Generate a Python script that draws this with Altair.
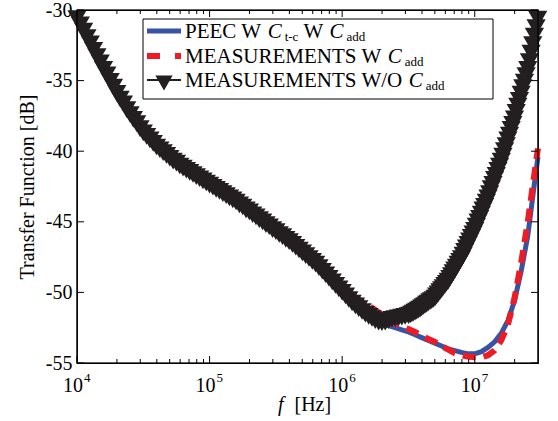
import altair as alt
import numpy as np
import pandas as pd

SERIF = "Liberation Serif"

# ---------------- data ----------------
# log10(frequency) grids
black_logf = list(np.round(np.concatenate([np.linspace(4.0, 6.5, 101),
                                           np.linspace(6.5125, 7.4625, 77),
                                           [7.475]]), 4))
line_logf = list(np.round(np.concatenate([np.linspace(4.0, 7.45, 70), [7.477]]), 4))

# MEASUREMENTS W/O Cadd  (black, triangle markers)
black_db = [
    -30.6, -31.05, -31.5, -31.95, -32.4, -32.85, -33.3, -33.75, -34.2, -34.6,
    -35.05, -35.45, -35.9, -36.3, -36.65, -37.05, -37.4, -37.75, -38.05, -38.4,
    -38.7, -38.95, -39.2, -39.45, -39.7, -39.9, -40.1, -40.3, -40.5, -40.7,
    -40.85, -41.05, -41.2, -41.35, -41.5, -41.65, -41.8, -41.95, -42.1, -42.25,
    -42.4, -42.55, -42.7, -42.85, -43.0, -43.15, -43.3, -43.45, -43.6, -43.8,
    -43.95, -44.15, -44.3, -44.5, -44.65, -44.85, -45.0, -45.2, -45.35, -45.55,
    -45.7, -45.9, -46.05, -46.25, -46.4, -46.6, -46.8, -47.0, -47.2, -47.4,
    -47.6, -47.8, -48.0, -48.25, -48.5, -48.75, -49.0, -49.25, -49.5, -49.75,
    -50.0, -50.25, -50.5, -50.75, -50.95, -51.15, -51.35, -51.55, -51.7, -51.85,
    -52.0, -52.1, -52.15, -52.1, -52.0, -51.9, -51.85, -51.8, -51.75, -51.7,
    -51.65,
    -51.6, -51.53, -51.47, -51.4, -51.33, -51.25, -51.18, -51.1,
    -51.0, -50.93, -50.83, -50.75, -50.65, -50.58, -50.5, -50.4,
    -50.25, -50.1, -49.95, -49.8, -49.65, -49.5, -49.35, -49.2,
    -49.0, -48.8, -48.6, -48.4, -48.2, -48.0, -47.8, -47.6,
    -47.35, -47.1, -46.85, -46.6, -46.35, -46.1, -45.85, -45.6,
    -45.3, -45.0, -44.75, -44.45, -44.15, -43.9, -43.6, -43.3,
    -43.0, -42.65, -42.35, -42.0, -41.7, -41.35, -41.05, -40.7,
    -40.35, -39.95, -39.6, -39.2, -38.85, -38.45, -38.1, -37.7,
    -37.25, -36.8, -36.4, -35.95, -35.5, -35.1, -34.65, -34.2,
    -33.65, -33.05, -32.45, -31.85, -31.25,
    -30.65,
]

# PEEC W Ct-c W Cadd (blue solid)
peec_db = [
    -30.8, -31.6, -32.5, -33.4, -34.3, -35.1, -35.95, -36.7, -37.4, -38.05,
    -38.7, -39.2, -39.7, -40.1, -40.5, -40.85, -41.2, -41.5, -41.8, -42.1,
    -42.4, -42.7, -43.0, -43.3, -43.6, -43.95, -44.3, -44.65, -45.0, -45.35,
    -45.7, -46.05, -46.4, -46.8, -47.2, -47.6, -48.0, -48.5, -49.0, -49.5,
    -50.0, -50.5, -50.95, -51.35, -51.7, -52.0, -52.2, -52.35, -52.5, -52.65,
    -52.8, -53.0, -53.2, -53.4, -53.6, -53.8, -54.0, -54.12, -54.25, -54.35,
    -54.35, -54.2, -53.9, -53.5, -52.9, -52.0, -50.6, -48.5, -46.0, -42.3,
    -40.4,
]

# MEASUREMENTS W Cadd (red dashed)
meas_db = [
    -30.5, -31.4, -32.3, -33.2, -34.1, -34.95, -35.8, -36.55, -37.3, -37.95,
    -38.6, -39.1, -39.6, -40.0, -40.4, -40.75, -41.1, -41.4, -41.7, -42.0,
    -42.3, -42.6, -42.9, -43.2, -43.5, -43.85, -44.2, -44.55, -44.9, -45.25,
    -45.6, -45.95, -46.3, -46.7, -47.1, -47.5, -47.9, -48.35,
    -48.8, -49.2, -49.6, -50.0, -50.35, -50.65, -50.95, -51.25, -51.6, -51.9,
    -52.2, -52.4, -52.6, -52.8, -53.05, -53.3, -53.5, -53.8, -54.05, -54.3,
    -54.45, -54.55, -54.6, -54.6, -54.45, -54.1, -53.4, -52.3, -50.4, -47.9,
    -45.0, -41.6,
    -39.8,
]

y_ticks = [-55, -50, -45, -40, -35, -30]
x_major = [1e4, 1e5, 1e6, 1e7]
x_major_base = ["10", "10", "10", "10"]
x_major_exp = ["4", "5", "6", "7"]
x_minor = [k * 10.0 ** e for e in (4, 5, 6) for k in range(2, 10)] + [2e7]

legend_labels = ["PEEC", "MEASUREMENTS W", "MEASUREMENTS W/O"]

# ---------------- layout ----------------
W, H = 461, 353
BLUE, RED, BLACK = "#3953a4", "#ed1c24", "#231f20"

df_black = pd.DataFrame({"f": 10 ** np.array(black_logf), "db": black_db})
df_peec = pd.DataFrame({"f": 10 ** np.array(line_logf), "db": peec_db})
df_meas = pd.DataFrame({"f": 10 ** np.array(line_logf), "db": meas_db})

xs = alt.Scale(type="log", domain=[1e4, 3e7], nice=False)
ys = alt.Scale(domain=[-55, -30], nice=False, zero=False)
X = alt.X("f:Q", scale=xs, axis=None)

yaxis = alt.Axis(values=y_ticks, ticks=False, tickSize=0, domain=False, grid=False,
                 labelExpr="'' + datum.value", labelFont=SERIF, labelFontSize=20,
                 labelColor="black", labelPadding=5,
                 title="Transfer Function [dB]", titleFont=SERIF, titleFontSize=20,
                 titleFontWeight="normal", titleColor="black", titlePadding=8)
Y = alt.Y("db:Q", scale=ys, axis=yaxis)

peec = alt.Chart(df_peec).mark_line(color=BLUE, strokeWidth=5).encode(x=X, y=Y)
meas = alt.Chart(df_meas).mark_line(color=RED, strokeWidth=6, strokeDash=[13, 8]).encode(x=X, y=Y)
bline = alt.Chart(df_black).mark_line(color=BLACK, strokeWidth=2).encode(x=X, y=Y)
bpts = alt.Chart(df_black).mark_point(shape="triangle-down", size=370, filled=True,
                                      color=BLACK, opacity=1, strokeWidth=0).encode(x=X, y=Y)

one = pd.DataFrame({"a": [0]})

# plot frame
frame = alt.Chart(one).mark_rect(fill=None, stroke="black", strokeWidth=1.2).encode(
    x=alt.value(0), x2=alt.value(W), y=alt.value(0), y2=alt.value(H))

# inward ticks (MATLAB style) on all four sides
df_yt = pd.DataFrame({"db": y_ticks})
df_xM = pd.DataFrame({"f": x_major, "base": x_major_base, "exp": x_major_exp})
df_xm = pd.DataFrame({"f": x_minor})
tk = dict(color="black", strokeWidth=1)
ticks = [
    alt.Chart(df_yt).mark_rule(**tk).encode(y=Y, x=alt.value(0), x2=alt.value(7)),
    alt.Chart(df_yt).mark_rule(**tk).encode(y=Y, x=alt.value(W - 7), x2=alt.value(W)),
    alt.Chart(df_xM).mark_rule(**tk).encode(x=X, y=alt.value(H), y2=alt.value(H - 7)),
    alt.Chart(df_xM).mark_rule(**tk).encode(x=X, y=alt.value(0), y2=alt.value(7)),
    alt.Chart(df_xm).mark_rule(**tk).encode(x=X, y=alt.value(H), y2=alt.value(H - 4)),
    alt.Chart(df_xm).mark_rule(**tk).encode(x=X, y=alt.value(0), y2=alt.value(4)),
]

xlab_base = alt.Chart(df_xM).mark_text(align="right", baseline="alphabetic", font=SERIF,
                                       fontSize=20, color="black", dx=6).encode(
    x=X, y=alt.value(H + 29), text="base:N")
xlab_exp = alt.Chart(df_xM).mark_text(align="left", baseline="alphabetic", font=SERIF,
                                      fontSize=13, color="black", dx=7).encode(
    x=X, y=alt.value(H + 19), text="exp:N")


def txt(s, x, y, size=20, style="normal", align="left"):
    return alt.Chart(one).mark_text(text=s, align=align, baseline="alphabetic", font=SERIF,
                                    fontSize=size, fontStyle=style, color="black").encode(
        x=alt.value(x), y=alt.value(y))


xtitle = [txt("f", W / 2 - 24, H + 48, style="italic", align="right"),
          txt("[Hz]", W / 2 - 13, H + 48)]

# ---------------- legend ----------------
MET = {"P": 556, "E": 611, "C": 667, " ": 250, "W": 944, "M": 889, "A": 722, "S": 556,
       "U": 722, "R": 667, "N": 722, "T": 611, "/": 278, "O": 722, "a": 444, "d": 500,
       "t": 278, "-": 333, "c": 444}


def tw(s, size):
    return sum(MET.get(ch, 500) for ch in s) * size / 1000.0


F, S = 21, 13
LX0, LX1, LY0, LY1 = 66, 416, 9, 89
rows_y = [21, 46, 70]
sym_x0, sym_x1, tx0 = 70, 104, 108

legend = [alt.Chart(one).mark_rect(fill="white", stroke="black", strokeWidth=1).encode(
    x=alt.value(LX0), x2=alt.value(LX1), y=alt.value(LY0), y2=alt.value(LY1))]
legend.append(alt.Chart(one).mark_rule(color=BLUE, strokeWidth=5).encode(
    x=alt.value(sym_x0), x2=alt.value(sym_x1), y=alt.value(rows_y[0])))
legend.append(alt.Chart(one).mark_rule(color=RED, strokeWidth=6, strokeDash=[13, 15]).encode(
    x=alt.value(sym_x0), x2=alt.value(sym_x1), y=alt.value(rows_y[1])))
legend.append(alt.Chart(one).mark_rule(color=BLACK, strokeWidth=2).encode(
    x=alt.value(sym_x0), x2=alt.value(sym_x1), y=alt.value(rows_y[2])))
legend.append(alt.Chart(one).mark_point(shape="triangle-down", size=300, filled=True,
                                        color=BLACK, opacity=1, strokeWidth=0).encode(
    x=alt.value((sym_x0 + sym_x1) / 2), y=alt.value(rows_y[2] + 3)))


def add_row(parts, y):
    x = tx0
    base = y + 7
    for s, kind in parts:
        if kind == "n":
            legend.append(txt(s, x, base, size=F))
            x += tw(s, F) + 1
        elif kind == "i":
            legend.append(txt(s, x, base, size=F, style="italic"))
            x += tw(s, F) + 3
        else:
            legend.append(txt(s, x, base + 3, size=S))
            x += tw(s, S) + 5


add_row([(legend_labels[0] + " W ", "n"), ("C", "i"), ("t-c", "s"), ("W ", "n"), ("C", "i"), ("add", "s")], rows_y[0])
add_row([(legend_labels[1] + " ", "n"), ("C", "i"), ("add", "s")], rows_y[1])
add_row([(legend_labels[2] + " ", "n"), ("C", "i"), ("add", "s")], rows_y[2])

chart = alt.layer(peec, meas, bline, bpts, frame, *ticks, xlab_base, xlab_exp, *xtitle, *legend).properties(
    width=W, height=H,
    padding={"left": 77, "top": 10, "right": 20, "bottom": 58},
    autosize=alt.AutoSizeParams(type="none"),
    background="white",
).configure_view(stroke="black", strokeWidth=1.2)

chart.save("out.html", embed_options={"renderer": "svg", "actions": False})
